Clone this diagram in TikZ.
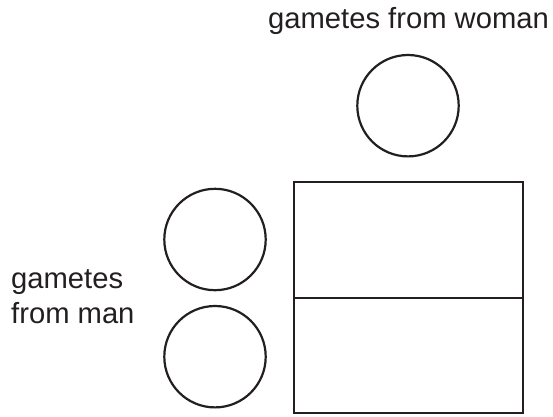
\documentclass[tikz,border=0pt]{standalone}
\usepackage{fontspec}
\setmainfont{Liberation Sans}
\definecolor{ink}{HTML}{231F20}
\begin{document}
\begin{tikzpicture}[x=1pt,y=1pt,
  shapeline/.style={draw=ink,line width=2.2pt},
  lbl/.style={text=ink,inner sep=0pt,font=\fontsize{29.2}{35}\selectfont}]
\useasboundingbox (0,0) rectangle (553,416);
\node[lbl,anchor=base] (woman) at (408.5,387) {gametes from woman};
\node[lbl,anchor=base west,align=left] (man) at (11,93) {gametes\\from man};
\node[shapeline,circle,minimum size=101.4pt,inner sep=0pt] (cw) at (408,310.3) {};
\node[shapeline,circle,minimum size=101.4pt,inner sep=0pt] (cm1) at (215,176.5) {};
\node[shapeline,circle,minimum size=101.4pt,inner sep=0pt] (cm2) at (215,59.3) {};
\coordinate (bl) at (294.3,2.7);
\coordinate (tr) at (522.7,233.7);
\coordinate (ml) at (294.3,117.7);
\coordinate (mr) at (522.7,117.7);
\draw[shapeline] (bl) rectangle (tr);
\draw[shapeline] (ml) -- (mr);
\end{tikzpicture}
\end{document}
